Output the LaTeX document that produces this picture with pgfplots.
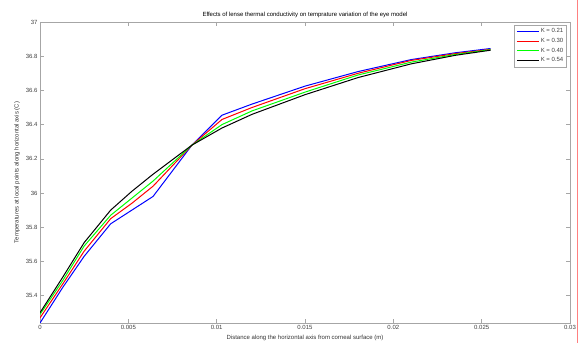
\documentclass[border=0pt]{standalone}
\usepackage{fontspec}
\setmainfont{Liberation Sans}
\usepackage{pgfplots}
\pgfplotsset{compat=1.18}
\begin{document}
\begin{tikzpicture}
\useasboundingbox (-40pt,-20pt) rectangle (539pt,323pt);
\begin{axis}[
  at={(0pt,0pt)}, anchor=south west,
  scale only axis, width=530pt, height=301pt,
  xmin=0, xmax=0.03, ymin=35.24, ymax=37,
  xtick={0,0.005,0.01,0.015,0.02,0.025,0.03},
  ytick={35.4,35.6,35.8,36,36.2,36.4,36.6,36.8,37},
  scaled ticks=false,
  xticklabel style={/pgf/number format/fixed,/pgf/number format/precision=3},
  yticklabel style={/pgf/number format/fixed,/pgf/number format/precision=1},
  /pgf/number format/assume math mode=true,
  tick label style={font=\fontsize{6}{7}\selectfont, text=black!75},
  tick align=inside, major tick length=4pt,
  axis line style={gray!70, line width=0.8pt},
  every tick/.style={gray!70, line width=0.6pt},
  xticklabel shift=-1pt, yticklabel shift=-1pt,
  title={Effects of lense thermal conductivity on temprature variation of the eye model},
  title style={font=\fontsize{6}{7}\selectfont, yshift=-5pt},
  xlabel={Distance along the horizontal axis from corneal surface (m)},
  ylabel={Temperatures at local points along horizontal axis (C)},
  label style={font=\fontsize{6}{7}\selectfont, text=black!80},
  xlabel style={yshift=1pt},
  ylabel style={yshift=-1pt},
  legend style={at={(0.9943,0.99)}, anchor=north east, font=\fontsize{6}{7}\selectfont,
    draw=gray!70, line width=0.6pt, inner xsep=2pt, inner ysep=2pt, row sep=1.2pt,
    nodes={inner sep=1.4pt, text=black!75}},
  legend cell align=left,
  legend image code/.code={\draw[#1, line width=1.0pt] (0pt,0pt) -- (22pt,0pt);},
]
\addplot[blue, line width=1.0pt] coordinates {(0,35.24) (0.0013,35.45) (0.0025,35.63) (0.004,35.82) (0.0052,35.90) (0.0064,35.98) (0.0086,36.28) (0.0103,36.455) (0.012,36.52) (0.015,36.625) (0.018,36.71) (0.021,36.78) (0.0235,36.82) (0.0255,36.845)};
\addlegendentry{K = 0.21}
\addplot[red, line width=1.0pt] coordinates {(0,35.27) (0.0013,35.47) (0.0025,35.66) (0.004,35.85) (0.0052,35.94) (0.0064,36.04) (0.0086,36.28) (0.0103,36.43) (0.012,36.50) (0.015,36.61) (0.018,36.70) (0.021,36.775) (0.0235,36.815) (0.0255,36.84)};
\addlegendentry{K = 0.30}
\addplot[green, line width=1.0pt] coordinates {(0,35.29) (0.0013,35.49) (0.0025,35.69) (0.004,35.87) (0.0052,35.97) (0.0064,36.07) (0.0086,36.28) (0.0103,36.40) (0.012,36.48) (0.015,36.59) (0.018,36.69) (0.021,36.765) (0.0235,36.81) (0.0255,36.838)};
\addlegendentry{K = 0.40}
\addplot[black, line width=1.0pt] coordinates {(0,35.30) (0.0013,35.51) (0.0025,35.71) (0.004,35.90) (0.0052,36.01) (0.0064,36.11) (0.0086,36.28) (0.0103,36.38) (0.012,36.46) (0.015,36.575) (0.018,36.675) (0.021,36.755) (0.0235,36.805) (0.0255,36.835)};
\addlegendentry{K = 0.54}
\end{axis}
\draw[red!50, line width=0.8pt] (537pt,-20pt) -- (537pt,323pt);
\end{tikzpicture}
\end{document}
